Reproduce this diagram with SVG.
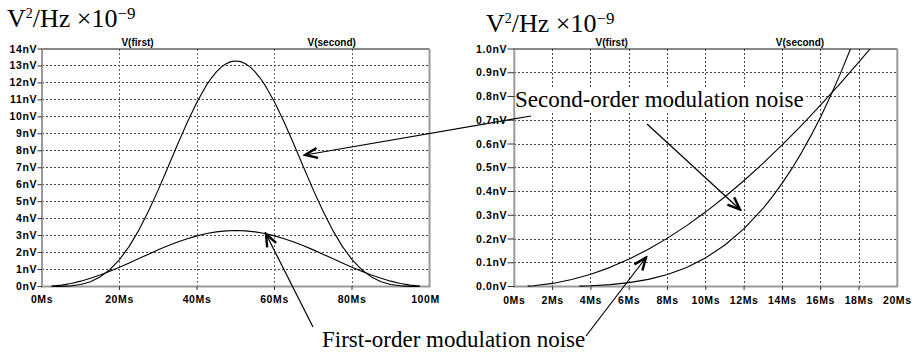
<svg xmlns="http://www.w3.org/2000/svg" width="912" height="354" viewBox="0 0 912 354">
  <style>
    .unit { font-family: "Liberation Serif", "Times New Roman", serif; font-size: 26px; fill: #000; }
    .sup2 { font-size: 14px; }
    .sup9 { font-size: 17px; }
    .note { font-family: "Liberation Serif", "Times New Roman", serif; font-size: 23px; fill: #000; }
    .tick { font-family: "Liberation Sans", Arial, sans-serif; font-size: 10.5px; font-weight: bold; letter-spacing: 0.6px; fill: #000; }
    .ytick { text-anchor: end; }
    .xtick { text-anchor: middle; }
    .trace { font-family: "Liberation Sans", Arial, sans-serif; font-size: 10px; font-weight: bold; text-anchor: middle; fill: #000; }
    .grid { stroke: #444; stroke-width: 1; stroke-dasharray: 2 2; fill: none; shape-rendering: crispEdges; }
    .gridv { stroke: #666; stroke-width: 1; stroke-dasharray: 2 2; fill: none; shape-rendering: crispEdges; }
    .axis { stroke: #999; stroke-width: 2; fill: none; }
    .frame { stroke: #111; stroke-width: 1; fill: none; }
    .mark { stroke: #333; stroke-width: 1; }
    .curve { stroke: #000; stroke-width: 1.1; fill: none; stroke-linejoin: round; }
    .arrow { stroke: #000; stroke-width: 1.2; fill: none; marker-end: url(#head); }
  </style>
  <defs>
    <marker id="head" viewBox="-15 -7 17 14" refX="0" refY="0" markerWidth="17" markerHeight="14" markerUnits="userSpaceOnUse" orient="auto">
      <path d="M-12.5,-5 L0,0 L-12.5,5" fill="none" stroke="#000" stroke-width="2.4" stroke-linejoin="miter"/>
    </marker>
    <clipPath id="rightArea">
      <rect x="514" y="49" width="384" height="238"/>
    </clipPath>
  </defs>

  <rect width="912" height="354" fill="#fff"/>

  <!-- left chart: full 0..100Ms span -->
  <g id="plot-left">
    <text class="unit" x="7" y="27">V<tspan class="sup2" dy="-9.5">2</tspan><tspan dy="9.5">/Hz ×10</tspan><tspan class="sup9" dy="-8.5">−9</tspan></text>
    <text class="trace" x="137.5" y="46">V(first)</text>
    <text class="trace" x="331.7" y="46">V(second)</text>
    <g class="grid">
      <line x1="42" y1="269.54" x2="429.5" y2="269.54"/>
      <line x1="42" y1="252.57" x2="429.5" y2="252.57"/>
      <line x1="42" y1="235.61" x2="429.5" y2="235.61"/>
      <line x1="42" y1="218.64" x2="429.5" y2="218.64"/>
      <line x1="42" y1="201.68" x2="429.5" y2="201.68"/>
      <line x1="42" y1="184.72" x2="429.5" y2="184.72"/>
      <line x1="42" y1="167.75" x2="429.5" y2="167.75"/>
      <line x1="42" y1="150.79" x2="429.5" y2="150.79"/>
      <line x1="42" y1="133.82" x2="429.5" y2="133.82"/>
      <line x1="42" y1="116.86" x2="429.5" y2="116.86"/>
      <line x1="42" y1="99.89" x2="429.5" y2="99.89"/>
      <line x1="42" y1="82.93" x2="429.5" y2="82.93"/>
      <line x1="42" y1="65.96" x2="429.5" y2="65.96"/>
    </g>
    <g class="gridv">
      <line x1="119.5" y1="49" x2="119.5" y2="286.5"/>
      <line x1="197" y1="49" x2="197" y2="286.5"/>
      <line x1="274.5" y1="49" x2="274.5" y2="286.5"/>
      <line x1="352" y1="49" x2="352" y2="286.5"/>
    </g>
    <line class="frame" x1="42" y1="49" x2="429.5" y2="49"/>
    <line class="axis" x1="429.5" y1="49" x2="429.5" y2="286.5"/>
    <line class="axis" x1="42" y1="48" x2="42" y2="287.5"/>
    <line class="axis" x1="41" y1="286.5" x2="430.5" y2="286.5"/>
    <g class="mark">
      <line x1="37.5" y1="286.5" x2="42" y2="286.5"/>
      <line x1="37.5" y1="269.54" x2="42" y2="269.54"/>
      <line x1="37.5" y1="252.57" x2="42" y2="252.57"/>
      <line x1="37.5" y1="235.61" x2="42" y2="235.61"/>
      <line x1="37.5" y1="218.64" x2="42" y2="218.64"/>
      <line x1="37.5" y1="201.68" x2="42" y2="201.68"/>
      <line x1="37.5" y1="184.72" x2="42" y2="184.72"/>
      <line x1="37.5" y1="167.75" x2="42" y2="167.75"/>
      <line x1="37.5" y1="150.79" x2="42" y2="150.79"/>
      <line x1="37.5" y1="133.82" x2="42" y2="133.82"/>
      <line x1="37.5" y1="116.86" x2="42" y2="116.86"/>
      <line x1="37.5" y1="99.89" x2="42" y2="99.89"/>
      <line x1="37.5" y1="82.93" x2="42" y2="82.93"/>
      <line x1="37.5" y1="65.96" x2="42" y2="65.96"/>
      <line x1="37.5" y1="49" x2="42" y2="49"/>
      <line x1="119.5" y1="286.5" x2="119.5" y2="290"/>
      <line x1="197" y1="286.5" x2="197" y2="290"/>
      <line x1="274.5" y1="286.5" x2="274.5" y2="290"/>
      <line x1="352" y1="286.5" x2="352" y2="290"/>
    </g>
    <g class="tick ytick">
      <text x="37" y="290">0nV</text>
      <text x="37" y="273">1nV</text>
      <text x="37" y="256">2nV</text>
      <text x="37" y="239">3nV</text>
      <text x="37" y="222">4nV</text>
      <text x="37" y="205">5nV</text>
      <text x="37" y="188">6nV</text>
      <text x="37" y="171">7nV</text>
      <text x="37" y="154">8nV</text>
      <text x="37" y="137">9nV</text>
      <text x="37" y="120">10nV</text>
      <text x="37" y="103">11nV</text>
      <text x="37" y="86">12nV</text>
      <text x="37" y="69">13nV</text>
      <text x="37" y="52.5">14nV</text>
    </g>
    <g class="tick xtick">
      <text x="42" y="302.5">0Ms</text>
      <text x="119.5" y="302.5">20Ms</text>
      <text x="197" y="302.5">40Ms</text>
      <text x="274.5" y="302.5">60Ms</text>
      <text x="352" y="302.5">80Ms</text>
      <text x="425.5" y="302.5">100M</text>
    </g>
    <!-- first-order: 3.3 sin^2(pi t/100) -->
    <polyline class="curve" points="51.69,286.16 61.38,285.13 71.06,283.45 80.75,281.16 90.44,278.30 100.13,274.97 109.81,271.22 119.5,267.16 129.19,262.89 138.88,258.52 148.56,254.14 158.25,249.87 167.94,245.81 177.63,242.07 187.31,238.73 197,235.88 206.69,233.58 216.38,231.90 226.06,230.88 235.75,230.53 245.44,230.88 255.12,231.90 264.81,233.58 274.5,235.88 284.19,238.73 293.87,242.07 303.56,245.81 313.25,249.87 322.94,254.14 332.62,258.52 342.31,262.89 352,267.16 361.69,271.22 371.37,274.97 381.06,278.30 390.75,281.16 400.44,283.45 410.12,285.13 419.81,286.16"/>
    <!-- second-order: 13.3 sin^4(pi t/100) -->
    <polyline class="curve" points="51.69,286.49 61.38,286.37 71.06,285.83 80.75,284.44 90.44,281.66 100.13,276.92 109.81,269.69 119.5,259.58 129.19,246.37 138.88,230.11 148.56,211.08 158.25,189.87 167.94,167.28 177.63,144.33 187.31,122.16 197,101.95 206.69,84.85 211.53,77.78 216.38,71.84 221.22,67.12 226.06,63.70 230.9,61.63 235.75,60.93 240.6,61.63 245.44,63.70 250.28,67.12 255.12,71.84 259.97,77.78 264.81,84.85 274.5,101.95 284.19,122.16 293.87,144.33 303.56,167.28 313.25,189.87 322.94,211.08 332.62,230.11 342.31,246.37 352,259.58 361.69,269.69 371.37,276.92 381.06,281.66 390.75,284.44 400.44,285.83 410.12,286.37 419.81,286.49"/>
  </g>

  <!-- right chart: 0..20Ms close-up -->
  <g id="plot-right">
    <text class="unit" x="486" y="32">V<tspan class="sup2" dy="-9.5">2</tspan><tspan dy="9.5">/Hz ×10</tspan><tspan class="sup9" dy="-8.5">−9</tspan></text>
    <text class="trace" x="611.7" y="46">V(first)</text>
    <text class="trace" x="800" y="46">V(second)</text>
    <g class="grid">
      <line x1="514.3" y1="262.75" x2="897.3" y2="262.75"/>
      <line x1="514.3" y1="239" x2="897.3" y2="239"/>
      <line x1="514.3" y1="215.25" x2="897.3" y2="215.25"/>
      <line x1="514.3" y1="191.5" x2="897.3" y2="191.5"/>
      <line x1="514.3" y1="167.75" x2="897.3" y2="167.75"/>
      <line x1="514.3" y1="144" x2="897.3" y2="144"/>
      <line x1="514.3" y1="120.25" x2="897.3" y2="120.25"/>
      <line x1="514.3" y1="96.5" x2="897.3" y2="96.5"/>
      <line x1="514.3" y1="72.75" x2="897.3" y2="72.75"/>
      <line x1="552.6" y1="49" x2="552.6" y2="286.5"/>
      <line x1="590.9" y1="49" x2="590.9" y2="286.5"/>
      <line x1="629.2" y1="49" x2="629.2" y2="286.5"/>
      <line x1="667.5" y1="49" x2="667.5" y2="286.5"/>
      <line x1="705.8" y1="49" x2="705.8" y2="286.5"/>
      <line x1="744.1" y1="49" x2="744.1" y2="286.5"/>
      <line x1="782.4" y1="49" x2="782.4" y2="286.5"/>
      <line x1="820.7" y1="49" x2="820.7" y2="286.5"/>
      <line x1="859" y1="49" x2="859" y2="286.5"/>
    </g>
    <line class="frame" x1="514.3" y1="49" x2="897.3" y2="49"/>
    <line class="axis" x1="897.3" y1="49" x2="897.3" y2="286.5"/>
    <line class="axis" x1="514.3" y1="48" x2="514.3" y2="287.5"/>
    <line class="axis" x1="513.3" y1="286.5" x2="898.3" y2="286.5"/>
    <g class="mark">
      <line x1="507.5" y1="286.5" x2="514.3" y2="286.5"/>
      <line x1="507.5" y1="262.75" x2="514.3" y2="262.75"/>
      <line x1="507.5" y1="239" x2="514.3" y2="239"/>
      <line x1="507.5" y1="215.25" x2="514.3" y2="215.25"/>
      <line x1="507.5" y1="191.5" x2="514.3" y2="191.5"/>
      <line x1="507.5" y1="167.75" x2="514.3" y2="167.75"/>
      <line x1="507.5" y1="144" x2="514.3" y2="144"/>
      <line x1="507.5" y1="120.25" x2="514.3" y2="120.25"/>
      <line x1="507.5" y1="96.5" x2="514.3" y2="96.5"/>
      <line x1="507.5" y1="72.75" x2="514.3" y2="72.75"/>
      <line x1="507.5" y1="49" x2="514.3" y2="49"/>
      <line x1="552.6" y1="286.5" x2="552.6" y2="290"/>
      <line x1="590.9" y1="286.5" x2="590.9" y2="290"/>
      <line x1="629.2" y1="286.5" x2="629.2" y2="290"/>
      <line x1="667.5" y1="286.5" x2="667.5" y2="290"/>
      <line x1="705.8" y1="286.5" x2="705.8" y2="290"/>
      <line x1="744.1" y1="286.5" x2="744.1" y2="290"/>
      <line x1="782.4" y1="286.5" x2="782.4" y2="290"/>
      <line x1="820.7" y1="286.5" x2="820.7" y2="290"/>
      <line x1="859" y1="286.5" x2="859" y2="290"/>
    </g>
    <g class="tick ytick">
      <text x="507" y="290">0.0nV</text>
      <text x="507" y="266.3">0.1nV</text>
      <text x="507" y="242.5">0.2nV</text>
      <text x="507" y="218.8">0.3nV</text>
      <text x="507" y="195">0.4nV</text>
      <text x="507" y="171.3">0.5nV</text>
      <text x="507" y="147.5">0.6nV</text>
      <text x="507" y="123.8">0.7nV</text>
      <text x="507" y="100">0.8nV</text>
      <text x="507" y="76.3">0.9nV</text>
      <text x="507" y="52.5">1.0nV</text>
    </g>
    <g class="tick xtick">
      <text x="514.3" y="303.5">0Ms</text>
      <text x="552.6" y="303.5">2Ms</text>
      <text x="590.9" y="303.5">4Ms</text>
      <text x="629.2" y="303.5">6Ms</text>
      <text x="667.5" y="303.5">8Ms</text>
      <text x="705.8" y="303.5">10Ms</text>
      <text x="744.1" y="303.5">12Ms</text>
      <text x="782.4" y="303.5">14Ms</text>
      <text x="820.7" y="303.5">16Ms</text>
      <text x="859" y="303.5">18Ms</text>
      <text x="897.3" y="303.5">20Ms</text>
    </g>
    <g clip-path="url(#rightArea)">
      <polyline class="curve" points="527.7,286.12 533.45,285.73 552.6,283.42 571.75,279.57 590.9,274.22 610.05,267.36 629.2,259.04 648.35,249.28 667.5,238.13 686.65,225.62 705.8,211.82 724.95,196.76 744.1,180.51 763.25,163.14 782.4,144.71 801.55,125.30 820.7,104.98 839.85,83.84 859,61.95 878.15,39.41 897.3,16.3"/>
      <polyline class="curve" points="579.41,286.09 590.9,285.72 610.05,284.61 629.2,282.61 648.35,279.36 667.5,274.44 686.65,267.40 705.8,257.76 724.95,245.00 744.1,228.61 763.25,208.08 772.83,196.11 782.4,182.91 791.98,168.42 801.55,152.60 811.13,135.38 820.7,116.71 830.28,96.55 839.85,74.85 849.43,51.57 859,26.67 868.58,0.11"/>
    </g>
  </g>

  <!-- callout labels -->
  <g id="label-second">
    <rect x="515.5" y="89" width="291" height="23" fill="#fff"/>
    <text class="note" x="515" y="107">Second-order modulation noise</text>
  </g>
  <g id="label-first">
    <text class="note" x="322" y="346.5">First-order modulation noise</text>
  </g>

  <g id="connectors">
    <line class="arrow" x1="531" y1="116" x2="305" y2="155"/>
    <line class="arrow" x1="647" y1="124" x2="740" y2="209.5"/>
    <line class="arrow" x1="313" y1="327" x2="266" y2="234"/>
    <line class="arrow" x1="586" y1="336" x2="646" y2="257.5"/>
  </g>
</svg>
